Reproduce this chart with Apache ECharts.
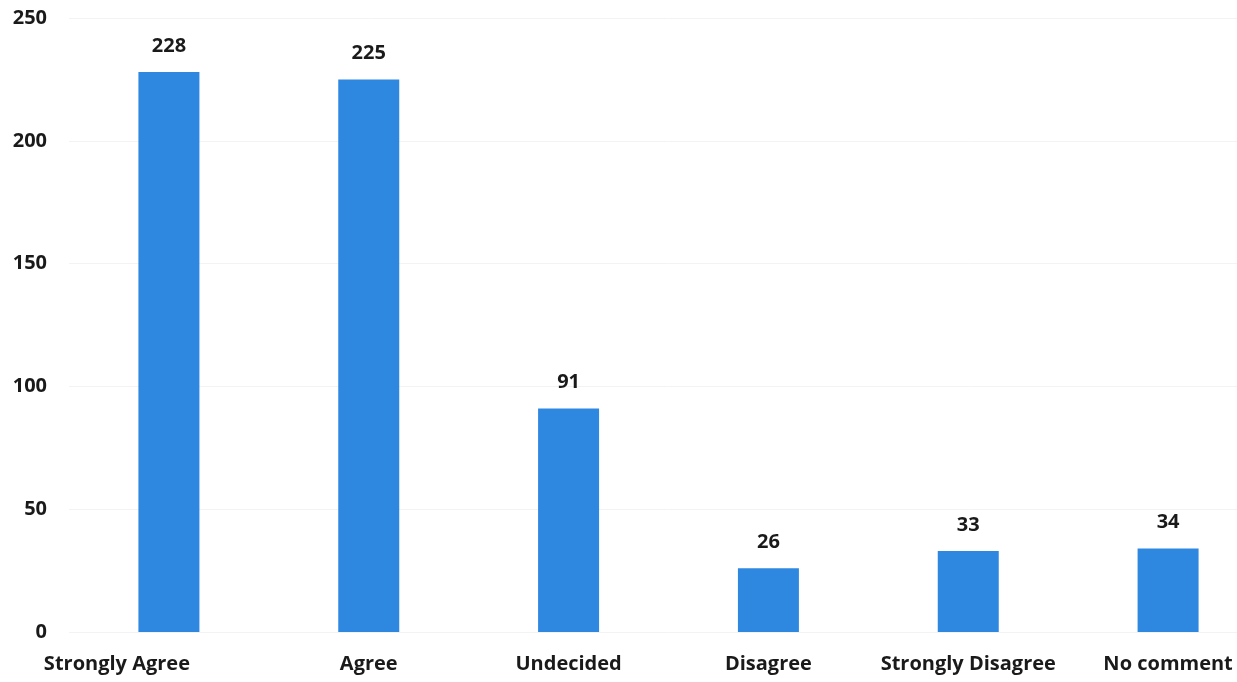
<!DOCTYPE html>
<html>
<head>
<meta charset="utf-8">
<script src="https://cdn.jsdelivr.net/npm/echarts@6/dist/echarts.min.js"></script>
<style>
html,body{margin:0;padding:0;background:#fff;overflow:hidden;width:1237px;height:682px;}
#chart{width:1268px;height:682px;}
</style>
</head>
<body>
<div id="chart"></div>
<script>
const categories = ["Strongly Agree", "Agree", "Undecided", "Disagree", "Strongly Disagree", "No comment"];
const values = [228, 225, 91, 26, 33, 34];
const yTicks = [0, 50, 100, 150, 200, 250];

const chart = echarts.init(document.getElementById('chart'), null, {renderer: 'canvas'});
const font = '"Open Sans", Lato, sans-serif';
// first label in the reference sits left of its bar
const catData = categories.map((c, i) => i === 0 ? {value: c, textStyle: {padding: [0, 104, 0, 0]}} : c);
chart.setOption({
  animation: false,
  backgroundColor: '#ffffff',
  grid: {left: 69, right: 0, top: 18, bottom: 50, containLabel: false},
  xAxis: {
    type: 'category',
    data: catData,
    axisLine: {show: false},
    axisTick: {show: false},
    axisLabel: {color: '#1a1a1a', fontFamily: font, fontWeight: 'bold', fontSize: 20, margin: 22, interval: 0}
  },
  yAxis: {
    type: 'value',
    min: yTicks[0],
    max: yTicks[yTicks.length - 1],
    interval: 50,
    axisLine: {show: false},
    axisTick: {show: false},
    splitLine: {lineStyle: {color: '#f3f3f3', width: 1}},
    axisLabel: {color: '#1a1a1a', fontFamily: font, fontWeight: 'bold', fontSize: 20, margin: 22, align: 'right'}
  },
  series: [{
    type: 'bar',
    data: values,
    barWidth: 61,
    itemStyle: {color: '#2F88E0'},
    label: {show: true, position: 'top', distance: 16, color: '#1a1a1a', fontFamily: font, fontWeight: 'bold', fontSize: 20}
  }]
});
</script>
</body>
</html>
